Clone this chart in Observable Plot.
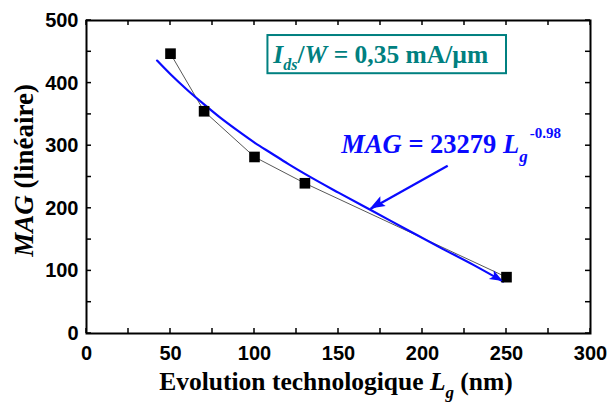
<!DOCTYPE html>
<html>
<head>
<meta charset="utf-8">
<script src="https://cdn.jsdelivr.net/npm/d3@7"></script>
<script src="https://cdn.jsdelivr.net/npm/@observablehq/plot@0.6"></script>
<style>
  html, body { margin: 0; padding: 0; background: #fff; }
  #chart { width: 608px; height: 403px; }
</style>
</head>
<body>
<div id="chart"></div>
<script>
// Measured points: gate length Lg (nm) and MAG (linear)
const lgValues = [50, 70, 100, 130, 250];
const magValues = [447, 355, 282, 240, 90];

// Fitted power-law curve
const fitLg = [42, 50, 60, 70, 80, 90, 100, 110, 120, 130, 150, 170, 190, 210, 230, 248];
const fitMag = [436, 414, 389, 366, 344, 324, 305, 288, 271, 255, 225, 196, 167, 138, 110, 83];

// Tick values
const xLabelTicks = [0, 50, 100, 150, 200, 250, 300];
const xAllTicks = [0, 25, 50, 75, 100, 125, 150, 175, 200, 225, 250, 275, 300];
const yLabelTicks = [0, 100, 200, 300, 400, 500];
const yAllTicks = [0, 50, 100, 150, 200, 250, 300, 350, 400, 450, 500];

// Annotations (data units)
const eqArrowStart = [215, 268];
const eqArrowEnd = [169, 199];
const eqLabelAt = [152, 287];
const boxX = [108, 250];
const boxY = [415, 476];
const boxLabelAt = [111.5, 431];

const points = lgValues.map((x, i) => ({x, y: magValues[i]}));
const fit = fitLg.map((x, i) => ({x, y: fitMag[i]}));
const n = fit.length;

const BLUE = "#0a0aff";
const TEAL = "#008080";
const SERIF = "'Liberation Serif', 'Times New Roman', serif";

const chart = Plot.plot({
  width: 608,
  height: 403,
  marginLeft: 86,
  marginRight: 18,
  marginTop: 20,
  marginBottom: 70,
  x: {domain: [0, 300]},
  y: {domain: [0, 500]},
  style: {
    background: "white",
    fontFamily: "'Liberation Sans', Arial, sans-serif",
    fontSize: "20px",
    fontWeight: "bold",
    color: "black",
    overflow: "visible"
  },
  marks: [
    Plot.axisX({ticks: xLabelTicks, tickSize: 0, tickPadding: 12, label: null, fill: "black"}),
    Plot.axisY({ticks: yLabelTicks, tickSize: 0, tickPadding: 8, label: null, fill: "black"}),
    Plot.rect([{}], {x1: () => boxX[0], x2: () => boxX[1], y1: () => boxY[0], y2: () => boxY[1], fill: "none", stroke: TEAL, strokeWidth: 2}),
    Plot.line(points, {x: "x", y: "y", curve: "linear", stroke: "#444", strokeWidth: 0.9}),
    Plot.line(fit, {x: "x", y: "y", curve: "monotone-x", stroke: BLUE, strokeWidth: 2.2}),
    Plot.link([{}], {x1: () => eqArrowStart[0], y1: () => eqArrowStart[1], x2: () => eqArrowEnd[0], y2: () => eqArrowEnd[1], stroke: BLUE, strokeWidth: 2.2}),
    Plot.dot(points, {x: "x", y: "y", symbol: "square", r: 6, fill: "black"}),
    Plot.frame({stroke: "black", strokeWidth: 2})
  ]
});

document.getElementById("chart").appendChild(chart);

const sx = chart.scale("x");
const sy = chart.scale("y");
const X = (v) => sx.apply(v);
const Y = (v) => sy.apply(v);
const svg = d3.select(chart);

// inward ticks on all four sides
const tickLen = 5;
const tg = svg.append("g").attr("stroke", "black").attr("stroke-width", 1.5);
const [x0, x1] = [X(0), X(300)];
const [y0, y1] = [Y(0), Y(500)];
xAllTicks.forEach((v) => {
  tg.append("line").attr("x1", X(v)).attr("x2", X(v)).attr("y1", y0).attr("y2", y0 - tickLen);
  tg.append("line").attr("x1", X(v)).attr("x2", X(v)).attr("y1", y1).attr("y2", y1 + tickLen);
});
yAllTicks.forEach((v) => {
  tg.append("line").attr("y1", Y(v)).attr("y2", Y(v)).attr("x1", x0).attr("x2", x0 + tickLen);
  tg.append("line").attr("y1", Y(v)).attr("y2", Y(v)).attr("x1", x1).attr("x2", x1 - tickLen);
});

// filled arrowheads
function head(fromX, fromY, toX, toY, len, half) {
  const px = X(toX), py = Y(toY);
  const dx = px - X(fromX), dy = py - Y(fromY);
  const d = Math.hypot(dx, dy);
  const ux = dx / d, uy = dy / d;
  const bx = px - ux * len, by = py - uy * len;
  const pts = [[px, py], [bx - uy * half, by + ux * half], [bx + ux * 3 - ux * 3, by], [bx + uy * half, by - ux * half]];
  const notch = [bx + ux * 3, by + uy * 3];
  const poly = [[px, py], pts[1], notch, pts[3]];
  svg.append("polygon").attr("points", poly.map((p) => p.join(",")).join(" ")).attr("fill", BLUE);
}
head(fitLg[n - 2], fitMag[n - 2], fitLg[n - 1], fitMag[n - 1], 13, 5);
head(eqArrowStart[0], eqArrowStart[1], eqArrowEnd[0], eqArrowEnd[1], 15, 5.5);

// rich text helper: styles set directly on each tspan
function rich(x, y, parts, opts = {}) {
  const base = opts.size || 24;
  const t = svg.append("text")
    .attr("x", x).attr("y", y)
    .style("text-anchor", opts.anchor || "start");
  if (opts.transform) t.attr("transform", opts.transform);
  parts.forEach((p) => {
    const s = t.append("tspan").text(p.t)
      .style("font-family", opts.family || SERIF)
      .style("font-weight", "bold")
      .style("font-size", (p.size || base) + "px")
      .style("font-style", p.italic ? "italic" : "normal")
      .style("fill", opts.fill || "black");
    if (p.dy) s.attr("dy", p.dy);
    if (p.dx) s.attr("dx", p.dx);
  });
  return t;
}

// x title
rich((x0 + x1) / 2 - 2, 390, [
  {t: "Evolution technologique "},
  {t: "L", italic: true},
  {t: "g", italic: true, size: 17, dy: 8},
  {t: " (nm)", dy: -8}
], {anchor: "middle", size: 25.5});

// y title
rich(0, 0, [
  {t: "MAG", italic: true},
  {t: " (linéaire)"}
], {anchor: "middle", size: 27, transform: `translate(33,${(y0 + y1) / 2 - 6}) rotate(-90)`});

// box label
rich(X(boxLabelAt[0]), Y(boxLabelAt[1]), [
  {t: "I", italic: true},
  {t: "ds", italic: true, size: 16, dy: 7},
  {t: "/", dy: -7},
  {t: "W", italic: true},
  {t: " = 0,35 mA/µm"}
], {fill: TEAL, size: 25.5});

// equation label
rich(X(eqLabelAt[0]), Y(eqLabelAt[1]), [
  {t: "MAG", italic: true},
  {t: " = 23279 "},
  {t: "L", italic: true},
  {t: "g", italic: true, size: 17, dy: 9},
  {t: "-0.98", size: 15, dy: -24, dx: 2}
], {fill: BLUE, size: 26.5});
</script>
</body>
</html>
